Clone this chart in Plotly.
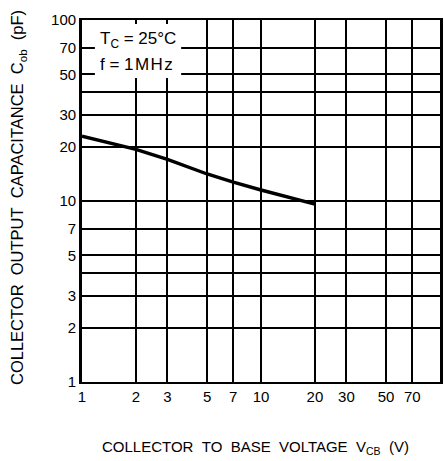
import plotly.graph_objects as go

# Data
vcb = [1, 2, 3, 5, 7, 10, 20]
cob = [22.8, 19.3, 17.0, 14.1, 12.7, 11.5, 9.6]

x_tickvals = [1, 2, 3, 5, 7, 10, 20, 30, 50, 70]
x_ticktext = ["1", "2", "3", "5", "7", "10", "20", "30", "50", "70"]
y_tickvals = [1, 2, 3, 5, 7, 10, 20, 30, 50, 70, 100]
y_ticktext = ["1", "2", "3", "5", "7", "10", "20", "30", "50", "70", "100"]
y_minor_grid = [4, 40]

FONT = "Liberation Sans, Arial, sans-serif"
NB = "\u00a0"
HS = "\u200a"

fig = go.Figure()
fig.add_trace(go.Scatter(x=vcb, y=cob, mode="lines",
                         line=dict(color="black", width=3.4),
                         showlegend=False, hoverinfo="skip"))

fig.update_layout(
    width=444, height=461,
    margin=dict(l=82, r=1, t=20, b=79),
    paper_bgcolor="white", plot_bgcolor="white",
    font=dict(family=FONT, color="black", size=15),
    xaxis=dict(type="log", range=[0, 2], tickvals=x_tickvals, ticktext=x_ticktext,
               showgrid=True, gridcolor="black", gridwidth=1.6,
               showline=True, linecolor="black", linewidth=2.2, mirror=True,
               ticks="", zeroline=False, tickfont=dict(size=15)),
    yaxis=dict(type="log", range=[0, 2], tickvals=y_tickvals, ticktext=y_ticktext,
               showgrid=True, gridcolor="black", gridwidth=1.6,
               minor=dict(tickvals=y_minor_grid, showgrid=True,
                          gridcolor="black", gridwidth=1.6, ticks=""),
               showline=True, linecolor="black", linewidth=2.8, mirror=True,
               ticks="", zeroline=False, tickfont=dict(size=15)),
    shapes=[dict(type="rect", xref="paper", yref="paper",
                 x0=0.036, x1=0.277, y0=0.840, y1=0.989,
                 fillcolor="white", line=dict(width=0), layer="above")],
    annotations=[
        dict(text="T<sub>C</sub>" + NB + "=" + NB + "25°C", xref="paper", yref="paper",
             x=0.044, y=0.945, xanchor="left", yanchor="middle",
             showarrow=False, font=dict(size=17)),
        dict(text="f" + NB + "=" + NB + "1" + HS + "M" + HS + "H" + HS + "z",
             xref="paper", yref="paper",
             x=0.044, y=0.878, xanchor="left", yanchor="middle",
             showarrow=False, font=dict(size=17)),
        dict(text=(NB * 2).join(["COLLECTOR", "OUTPUT", "CAPACITANCE",
                                 "C<sub>ob</sub>", "(pF)"]),
             xref="paper", yref="paper", x=-0.177, y=0.51,
             xanchor="center", yanchor="middle", textangle=-90,
             showarrow=False, font=dict(size=16.5)),
        dict(text=(NB * 2).join(["COLLECTOR", "TO", "BASE", "VOLTAGE",
                                 "V<sub>CB</sub>", "(V)"]),
             xref="paper", yref="paper", x=0.485, y=-0.180,
             xanchor="center", yanchor="middle",
             showarrow=False, font=dict(size=15)),
    ],
)

fig.write_html("out.html", config={"displayModeBar": False},
               post_script="document.body.style.margin='0';document.body.style.overflow='hidden';")
